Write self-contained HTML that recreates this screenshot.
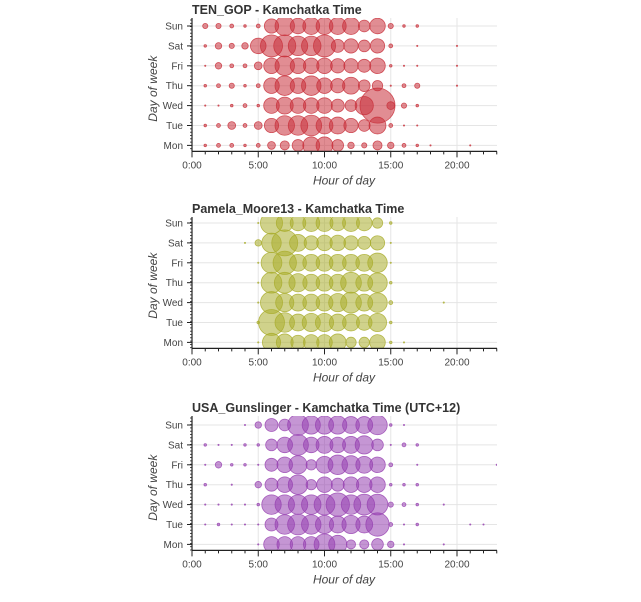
<!DOCTYPE html>
<html><head><meta charset="utf-8">
<style>
body{margin:0;background:#fff;}
svg{display:block;font-family:"Liberation Sans",sans-serif;}
</style></head>
<body>
<svg id="chart" width="641" height="602" viewBox="0 0 641 602" xmlns="http://www.w3.org/2000/svg"></svg>
<script>
const days = ["Sun","Sat","Fri","Thu","Wed","Tue","Mon"];
const hourTicks = [0,5,10,15,20];
const hourTickLabels = ["0:00","5:00","10:00","15:00","20:00"];
// bubble diameters per day, index = hour 0..23
const tenGop = [
 [0,4,4,3,2,3,11,15,12,13,13,13,13,9,12,4,2,2,0,0,0,0,0,0],
 [0,2,5,4,5,12,17,17,15,15,17,10,11,9,11,3,0,1,0,0,1,0,0,0],
 [0,1,5,3,3,6,12,15,12,12,12,11,11,10,12,2,1,1,0,0,1,0,0,0],
 [0,2,3,4,2,3,12,15,12,15,12,11,13,9,8,1,3,4,0,0,1,0,0,0],
 [0,1,1,2,3,2,12,13,12,12,12,10,9,14,27,6,4,2,0,0,0,0,0,0],
 [0,2,3,6,3,6,11,15,15,16,13,13,11,9,13,3,1,1,0,0,0,0,0,0],
 [0,2,3,3,2,3,6,7,9,13,13,9,5,4,7,5,3,2,1,0,0,1,0,0]
];
const pamela = [
 [0,0,0,0,0,1,17,13,12,13,13,12,13,12,8,2,0,0,0,0,0,0,0,0],
 [0,0,0,0,1,5,15,20,13,11,12,12,11,10,11,1,0,0,0,0,0,0,0,0],
 [0,0,0,0,0,1,16,18,13,13,13,13,13,13,15,1,0,0,0,0,0,0,0,0],
 [0,0,0,0,0,1,16,16,14,13,13,13,16,13,15,2,0,0,0,0,0,0,0,0],
 [0,0,0,0,0,1,17,14,13,13,13,14,16,13,15,3,0,0,0,1,0,0,0,0],
 [0,0,0,0,0,2,20,15,13,14,14,13,13,12,14,2,0,0,0,0,0,0,0,0],
 [0,0,0,0,0,1,14,13,11,12,12,13,8,8,12,2,1,0,0,0,0,0,0,0]
];
const gunslinger = [
 [0,0,0,0,1,5,10,9,16,14,14,14,13,13,15,2,1,0,0,0,0,0,0,0],
 [0,2,1,1,2,2,9,12,16,12,13,12,13,14,9,1,3,2,0,0,0,0,0,0],
 [0,1,5,2,2,1,10,12,14,8,13,15,14,13,12,3,0,1,0,0,0,0,0,1],
 [0,2,0,1,0,5,10,12,15,8,12,10,12,12,12,2,2,2,0,0,0,0,0,0],
 [0,1,1,1,1,2,15,15,15,15,16,18,15,16,16,4,3,2,0,1,0,0,0,0],
 [0,1,2,1,1,1,10,15,16,15,14,13,14,13,18,3,1,2,0,0,0,1,1,0],
 [0,0,0,0,0,1,12,12,12,12,16,14,7,7,9,5,1,0,0,1,0,0,0,0]
];
const SIZE_SCALE=1.3;
const NS="http://www.w3.org/2000/svg";
const svg=document.getElementById('chart');
function mk(tag,attrs,parent){const e=document.createElementNS(NS,tag);for(const k in attrs)e.setAttribute(k,attrs[k]);(parent||svg).appendChild(e);return e;}
const X0=192,X1=497,PXH=13.25;
function xScale(h){return X0+h*PXH;}
function drawPanel(id,title,data,top,rowY0,color,name){
  const g=mk('g',{});
  
  
  const axisY=rowY0+6*19.9+6;
  function yScale(i){return rowY0+i*19.9;}
  const t=mk('text',{x:192,y:top,'font-size':12.5,'font-weight':'bold',fill:'#333'},g);t.textContent=title;
  
  hourTicks.forEach(h=>{if(h>0)mk('line',{x1:xScale(h),x2:xScale(h),y1:top+4,y2:axisY,stroke:'#e5e5e5','stroke-width':1},g);});
  days.forEach((d,i)=>{mk('line',{x1:X0,x2:X1,y1:yScale(i),y2:yScale(i),stroke:'#e5e5e5','stroke-width':1},g);});
  const cp=mk('clipPath',{id:'clip'+id},g);mk('rect',{x:X0,y:top+4,width:X1-X0,height:axisY-top-4},cp);
  const cg=mk('g',{'clip-path':'url(#clip'+id+')'},g);
  data.forEach((row,i)=>row.forEach((d,h)=>{if(d>0){
    const c=mk('circle',{cx:xScale(h),cy:yScale(i),r:d*SIZE_SCALE/2,fill:color,'fill-opacity':0.55,stroke:color,'stroke-opacity':0.8,'stroke-width':0.8},cg);
    
    
  }}));
  mk('line',{x1:X0,x2:X1,y1:axisY,y2:axisY,stroke:'#222','stroke-width':1.2},g);
  mk('line',{x1:X0,x2:X0,y1:top+4,y2:axisY,stroke:'#222','stroke-width':1.2},g);
  for(let h=0;h<=23;h++){mk('line',{x1:xScale(h),x2:xScale(h),y1:axisY,y2:axisY+(h%5===0?6:3),stroke:'#222'},g);}
  hourTicks.forEach((h,k)=>{const l=mk('text',{x:xScale(h),y:axisY+17,'font-size':10,'text-anchor':'middle',fill:'#444'},g);l.textContent=hourTickLabels[k];});
  for(let y=top+6;y<axisY;y+=3.3){mk('line',{x1:X0-2,x2:X0,y1:y,y2:y,stroke:'#222','stroke-width':0.8},g);}
  days.forEach((d,i)=>{mk('line',{x1:X0-5,x2:X0,y1:yScale(i),y2:yScale(i),stroke:'#222'},g);
    const l=mk('text',{x:X0-9,y:yScale(i)+3.5,'font-size':10,'text-anchor':'end',fill:'#444'},g);l.textContent=d;});
  const xt=mk('text',{x:344,y:axisY+33,'font-size':12,'font-style':'italic','text-anchor':'middle',fill:'#444'},g);xt.textContent='Hour of day';
  
  const yt=mk('text',{x:0,y:0,'font-size':12,'font-style':'italic','text-anchor':'middle',fill:'#444',transform:'translate(157,'+((rowY0+axisY)/2)+') rotate(-90)'},g);yt.textContent='Day of week';
  
}
drawPanel(1,'TEN_GOP - Kamchatka Time',tenGop,14,26,'#c8303a','ten-gop');
drawPanel(2,'Pamela_Moore13 - Kamchatka Time',pamela,213,223,'#a9ad2c','pamela-moore');
drawPanel(3,'USA_Gunslinger - Kamchatka Time (UTC+12)',gunslinger,412,425,'#9640b0','usa-gunslinger');
</script>
</body></html>
